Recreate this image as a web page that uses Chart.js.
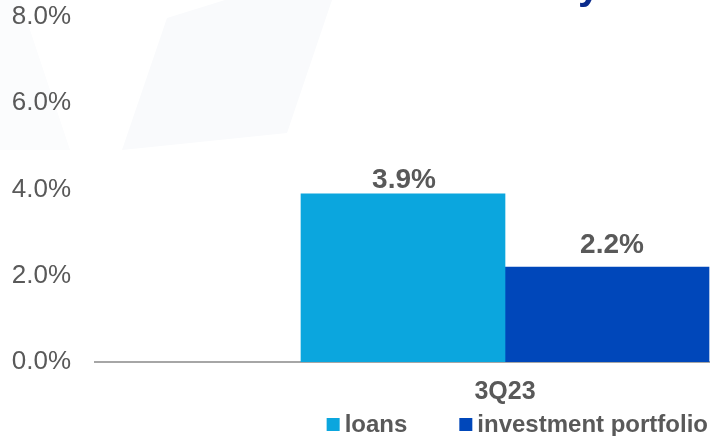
<!DOCTYPE html>
<html>
<head>
<meta charset="utf-8">
<script src="https://cdn.jsdelivr.net/npm/chart.js@4"></script>
<style>
  html, body { margin: 0; padding: 0; background: #ffffff; }
  #wrap { width: 710px; height: 436px; position: relative; }
</style>
</head>
<body>
<div id="wrap"><canvas id="yieldChart"></canvas></div>
<script>
// chart data
const categories = ['3Q23'];
const loans = [3.9];
const investmentPortfolio = [2.2];
const yTicks = [0, 2, 4, 6, 8];

// the quarter sits two thirds across the axis, so pad with empty slots
const labels = ['', '', ...categories, ''];
const pad = arr => [null, null, ...arr, null];

const textGray = '#595959';

// faint watermark shapes + cut-off title from the slide behind the chart
const backdrop = {
    id: 'backdrop',
    beforeDraw(chart) {
        const ctx = chart.ctx;
        ctx.save();
        ctx.fillStyle = '#fbfcfd';
        ctx.beginPath();
        ctx.moveTo(0, 0); ctx.lineTo(20, 0); ctx.lineTo(70, 150); ctx.lineTo(0, 150);
        ctx.closePath();
        ctx.fill();
        ctx.fillStyle = '#f9fafc';
        ctx.beginPath();
        ctx.moveTo(167, 18); ctx.lineTo(225, 0); ctx.lineTo(332, 0);
        ctx.lineTo(287, 133); ctx.lineTo(122, 150);
        ctx.closePath();
        ctx.fill();
        ctx.restore();
    },
    afterDraw(chart) {
        const ctx = chart.ctx;
        ctx.save();
        ctx.fillStyle = '#0a2b8c';
        ctx.font = 'bold 40px "Liberation Sans", Arial, sans-serif';
        ctx.textAlign = 'left';
        ctx.textBaseline = 'alphabetic';
        ctx.fillText('y', 578, -1);
        ctx.restore();
    }
};

// value labels above the bars
const valueLabels = {
    id: 'valueLabels',
    afterDatasetsDraw(chart) {
        const ctx = chart.ctx;
        ctx.save();
        ctx.fillStyle = textGray;
        ctx.font = 'bold 28px "Liberation Sans", Arial, sans-serif';
        ctx.textAlign = 'center';
        ctx.textBaseline = 'alphabetic';
        chart.data.datasets.forEach((ds, i) => {
            chart.getDatasetMeta(i).data.forEach((bar, j) => {
                const v = ds.data[j];
                if (v == null) return;
                ctx.fillText(v.toFixed(1) + '%', bar.x + ds.labelShift, bar.y - ds.labelOffset);
            });
        });
        ctx.restore();
    }
};

// legend row, right aligned under the axis label
const legendRow = {
    id: 'legendRow',
    afterDraw(chart) {
        const ctx = chart.ctx;
        ctx.save();
        ctx.font = 'bold 24px "Liberation Sans", Arial, sans-serif';
        ctx.textBaseline = 'alphabetic';
        ctx.textAlign = 'left';
        const box = 13, gapText = 5, gapItem = 52;
        const items = chart.data.datasets.map(ds => ({
            text: ds.label,
            color: ds.backgroundColor,
            w: box + gapText + ctx.measureText(ds.label).width
        }));
        const total = items.reduce((s, it) => s + it.w, 0) + gapItem * (items.length - 1);
        let x = 708 - total;
        items.forEach(it => {
            ctx.fillStyle = it.color;
            ctx.fillRect(x, 418, box, box);
            ctx.fillStyle = textGray;
            ctx.fillText(it.text, x + box + gapText, 432);
            x += it.w + gapItem;
        });
        ctx.restore();
    }
};

new Chart(document.getElementById('yieldChart'), {
    type: 'bar',
    data: {
        labels: labels,
        datasets: [
            {
                label: 'loans',
                data: pad(loans),
                backgroundColor: '#0ba6de',
                barThickness: 204,
                labelOffset: 6,
                labelShift: 1
            },
            {
                label: 'investment portfolio',
                data: pad(investmentPortfolio),
                backgroundColor: '#0047ba',
                barThickness: 204,
                labelOffset: 14,
                labelShift: 5
            }
        ]
    },
    options: {
        responsive: true,
        maintainAspectRatio: false,
        animation: false,
        layout: {
            padding: { top: 17, right: 0, bottom: 29, left: 0 }
        },
        scales: {
            x: {
                offset: false,
                // tickLength instead of ticks.padding keeps the chart area full width
                grid: { display: false, drawTicks: true, tickLength: 15 },
                border: { display: true, color: '#a6a6a6', width: 2 },
                ticks: {
                    color: textGray,
                    padding: 0,
                    maxRotation: 0,
                    autoSkip: false,
                    font: { family: '"Liberation Sans", Arial, sans-serif', size: 25, weight: 'bold' }
                }
            },
            y: {
                min: 0,
                max: 8,
                afterBuildTicks: scale => { scale.ticks = yTicks.map(v => ({ value: v })); },
                afterFit: scale => { scale.width = 95; },
                grid: { display: false, drawTicks: true, tickLength: 24 },
                border: { display: false },
                ticks: {
                    color: textGray,
                    padding: 0,
                    font: { family: '"Liberation Sans", Arial, sans-serif', size: 26 },
                    callback: v => v.toFixed(1) + '%'
                }
            }
        },
        plugins: {
            legend: { display: false },
            tooltip: { enabled: false }
        }
    },
    plugins: [backdrop, valueLabels, legendRow]
});
</script>
</body>
</html>
